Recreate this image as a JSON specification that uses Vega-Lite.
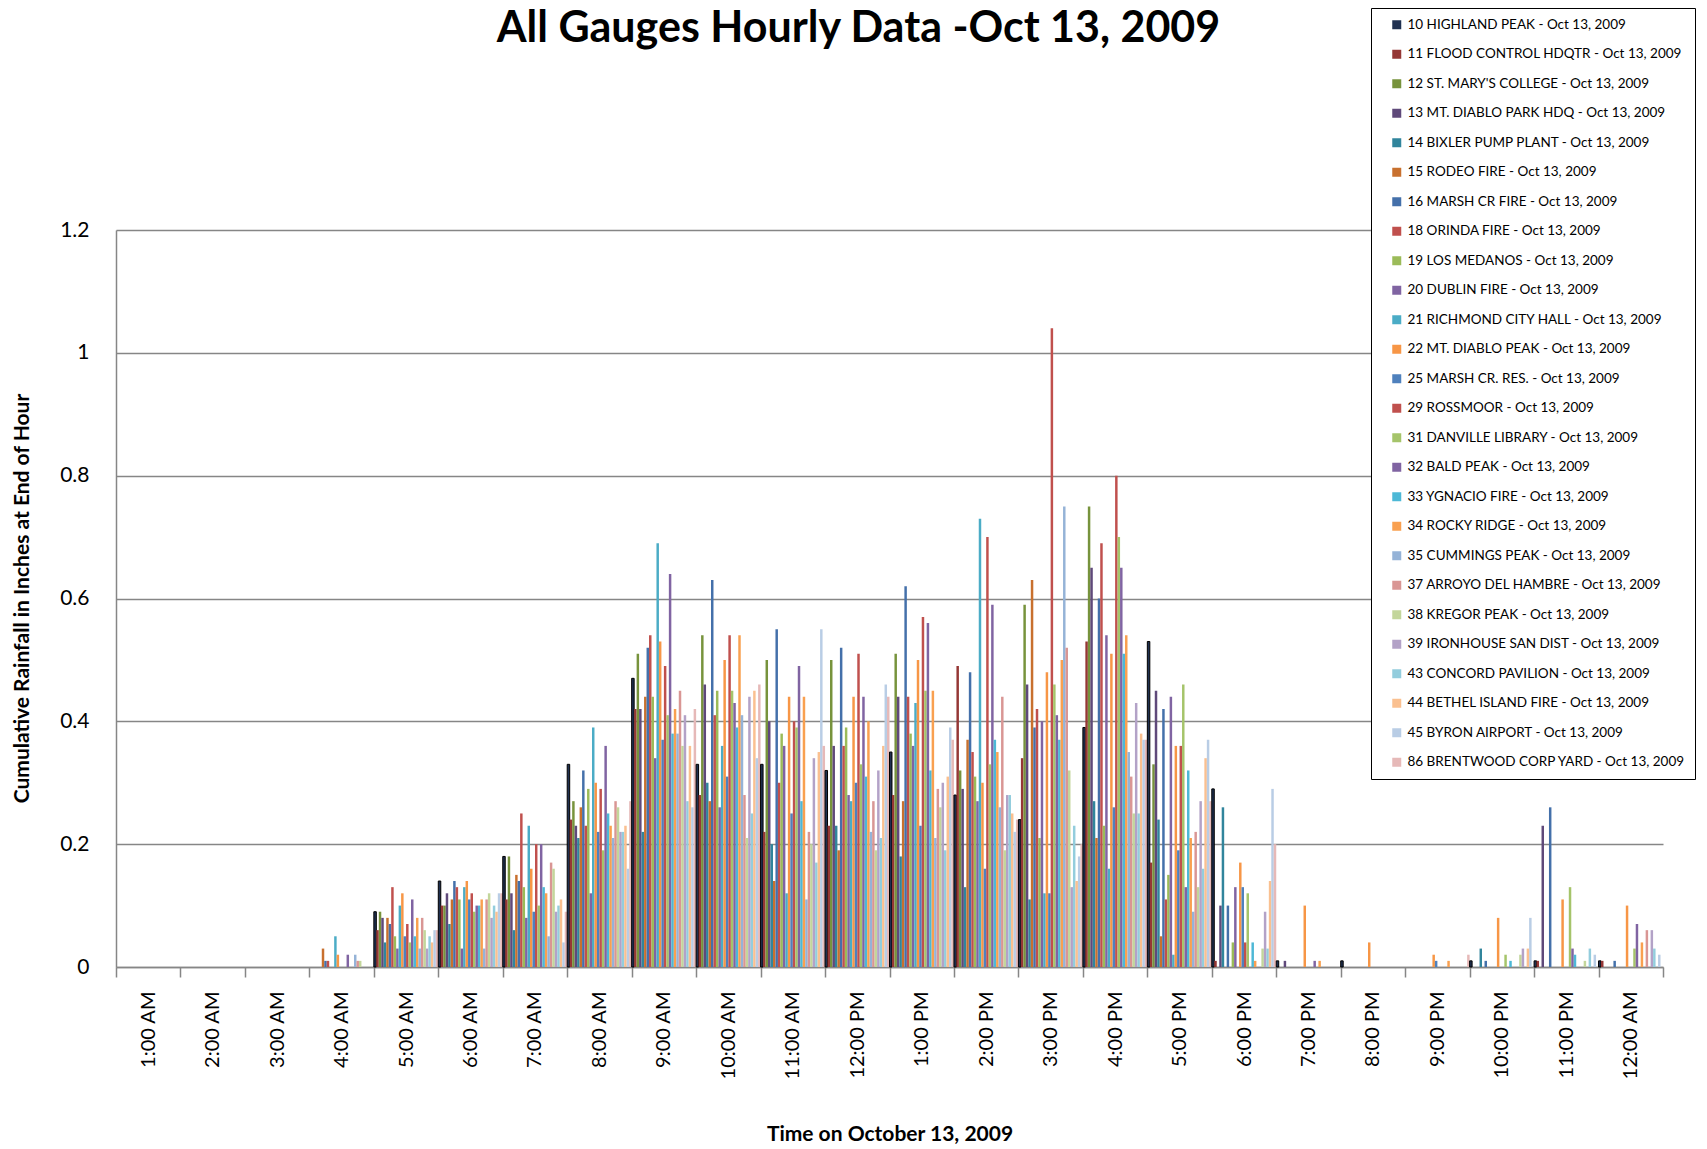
{
"$schema": "https://vega.github.io/schema/vega-lite/v6.json",
"autosize": {"type": "none"},
"width": 1547, "height": 737,
"padding": {"left": 116, "top": 230, "right": 44, "bottom": 182},
"background": "white",
"config": {"view": {"stroke": null}, "font": "Lato"},
"title": {"text": "All Gauges Hourly Data -Oct 13, 2009", "font": "Lato", "fontSize": 43, "fontWeight": "bold", "color": "black", "anchor": "middle", "frame": "group", "dx": -31, "baseline": "alphabetic", "offset": -77},
"datasets": {
"names": [
{"k":0,"gauge":"10 HIGHLAND PEAK - Oct 13, 2009"},
{"k":1,"gauge":"11 FLOOD CONTROL HDQTR - Oct 13, 2009"},
{"k":2,"gauge":"12 ST. MARY'S COLLEGE - Oct 13, 2009"},
{"k":3,"gauge":"13 MT. DIABLO PARK HDQ - Oct 13, 2009"},
{"k":4,"gauge":"14 BIXLER PUMP PLANT - Oct 13, 2009"},
{"k":5,"gauge":"15 RODEO FIRE - Oct 13, 2009"},
{"k":6,"gauge":"16 MARSH CR FIRE - Oct 13, 2009"},
{"k":7,"gauge":"18 ORINDA FIRE - Oct 13, 2009"},
{"k":8,"gauge":"19 LOS MEDANOS - Oct 13, 2009"},
{"k":9,"gauge":"20 DUBLIN FIRE - Oct 13, 2009"},
{"k":10,"gauge":"21 RICHMOND CITY HALL - Oct 13, 2009"},
{"k":11,"gauge":"22 MT. DIABLO PEAK - Oct 13, 2009"},
{"k":12,"gauge":"25 MARSH CR. RES. - Oct 13, 2009"},
{"k":13,"gauge":"29 ROSSMOOR - Oct 13, 2009"},
{"k":14,"gauge":"31 DANVILLE LIBRARY - Oct 13, 2009"},
{"k":15,"gauge":"32 BALD PEAK - Oct 13, 2009"},
{"k":16,"gauge":"33 YGNACIO FIRE - Oct 13, 2009"},
{"k":17,"gauge":"34 ROCKY RIDGE - Oct 13, 2009"},
{"k":18,"gauge":"35 CUMMINGS PEAK - Oct 13, 2009"},
{"k":19,"gauge":"37 ARROYO DEL HAMBRE - Oct 13, 2009"},
{"k":20,"gauge":"38 KREGOR PEAK - Oct 13, 2009"},
{"k":21,"gauge":"39 IRONHOUSE SAN DIST - Oct 13, 2009"},
{"k":22,"gauge":"43 CONCORD PAVILION - Oct 13, 2009"},
{"k":23,"gauge":"44 BETHEL ISLAND FIRE - Oct 13, 2009"},
{"k":24,"gauge":"45 BYRON AIRPORT - Oct 13, 2009"},
{"k":25,"gauge":"86 BRENTWOOD CORP YARD - Oct 13, 2009"}
],
"rain": [
{"h":"4:00 AM","k":5,"v":0.03},{"h":"4:00 AM","k":6,"v":0.01},{"h":"4:00 AM","k":7,"v":0.01},{"h":"4:00 AM","k":10,"v":0.05},{"h":"4:00 AM","k":11,"v":0.02},{"h":"4:00 AM","k":15,"v":0.02},{"h":"4:00 AM","k":18,"v":0.02},{"h":"4:00 AM","k":19,"v":0.01},{"h":"4:00 AM","k":20,"v":0.01},
{"h":"5:00 AM","k":0,"v":0.09},{"h":"5:00 AM","k":1,"v":0.06},{"h":"5:00 AM","k":2,"v":0.09},{"h":"5:00 AM","k":3,"v":0.08},{"h":"5:00 AM","k":4,"v":0.04},{"h":"5:00 AM","k":5,"v":0.08},{"h":"5:00 AM","k":6,"v":0.07},{"h":"5:00 AM","k":7,"v":0.13},{"h":"5:00 AM","k":8,"v":0.05},{"h":"5:00 AM","k":9,"v":0.03},{"h":"5:00 AM","k":10,"v":0.10},{"h":"5:00 AM","k":11,"v":0.12},{"h":"5:00 AM","k":12,"v":0.05},{"h":"5:00 AM","k":13,"v":0.07},{"h":"5:00 AM","k":14,"v":0.04},{"h":"5:00 AM","k":15,"v":0.11},{"h":"5:00 AM","k":16,"v":0.05},{"h":"5:00 AM","k":17,"v":0.08},{"h":"5:00 AM","k":18,"v":0.03},{"h":"5:00 AM","k":19,"v":0.08},{"h":"5:00 AM","k":20,"v":0.06},{"h":"5:00 AM","k":21,"v":0.03},{"h":"5:00 AM","k":22,"v":0.05},{"h":"5:00 AM","k":23,"v":0.04},{"h":"5:00 AM","k":24,"v":0.06},{"h":"5:00 AM","k":25,"v":0.06},
{"h":"6:00 AM","k":0,"v":0.14},{"h":"6:00 AM","k":1,"v":0.10},{"h":"6:00 AM","k":2,"v":0.10},{"h":"6:00 AM","k":3,"v":0.12},{"h":"6:00 AM","k":4,"v":0.07},{"h":"6:00 AM","k":5,"v":0.11},{"h":"6:00 AM","k":6,"v":0.14},{"h":"6:00 AM","k":7,"v":0.13},{"h":"6:00 AM","k":8,"v":0.11},{"h":"6:00 AM","k":9,"v":0.03},{"h":"6:00 AM","k":10,"v":0.13},{"h":"6:00 AM","k":11,"v":0.14},{"h":"6:00 AM","k":12,"v":0.11},{"h":"6:00 AM","k":13,"v":0.12},{"h":"6:00 AM","k":14,"v":0.09},{"h":"6:00 AM","k":15,"v":0.10},{"h":"6:00 AM","k":16,"v":0.10},{"h":"6:00 AM","k":17,"v":0.11},{"h":"6:00 AM","k":18,"v":0.03},{"h":"6:00 AM","k":19,"v":0.11},{"h":"6:00 AM","k":20,"v":0.12},{"h":"6:00 AM","k":21,"v":0.08},{"h":"6:00 AM","k":22,"v":0.10},{"h":"6:00 AM","k":23,"v":0.09},{"h":"6:00 AM","k":24,"v":0.12},{"h":"6:00 AM","k":25,"v":0.12},
{"h":"7:00 AM","k":0,"v":0.18},{"h":"7:00 AM","k":1,"v":0.11},{"h":"7:00 AM","k":2,"v":0.18},{"h":"7:00 AM","k":3,"v":0.12},{"h":"7:00 AM","k":4,"v":0.06},{"h":"7:00 AM","k":5,"v":0.15},{"h":"7:00 AM","k":6,"v":0.14},{"h":"7:00 AM","k":7,"v":0.25},{"h":"7:00 AM","k":8,"v":0.13},{"h":"7:00 AM","k":9,"v":0.08},{"h":"7:00 AM","k":10,"v":0.23},{"h":"7:00 AM","k":11,"v":0.16},{"h":"7:00 AM","k":12,"v":0.09},{"h":"7:00 AM","k":13,"v":0.20},{"h":"7:00 AM","k":14,"v":0.10},{"h":"7:00 AM","k":15,"v":0.20},{"h":"7:00 AM","k":16,"v":0.13},{"h":"7:00 AM","k":17,"v":0.12},{"h":"7:00 AM","k":18,"v":0.05},{"h":"7:00 AM","k":19,"v":0.17},{"h":"7:00 AM","k":20,"v":0.16},{"h":"7:00 AM","k":21,"v":0.09},{"h":"7:00 AM","k":22,"v":0.10},{"h":"7:00 AM","k":23,"v":0.11},{"h":"7:00 AM","k":24,"v":0.04},{"h":"7:00 AM","k":25,"v":0.09},
{"h":"8:00 AM","k":0,"v":0.33},{"h":"8:00 AM","k":1,"v":0.24},{"h":"8:00 AM","k":2,"v":0.27},{"h":"8:00 AM","k":3,"v":0.23},{"h":"8:00 AM","k":4,"v":0.21},{"h":"8:00 AM","k":5,"v":0.26},{"h":"8:00 AM","k":6,"v":0.32},{"h":"8:00 AM","k":7,"v":0.23},{"h":"8:00 AM","k":8,"v":0.29},{"h":"8:00 AM","k":9,"v":0.12},{"h":"8:00 AM","k":10,"v":0.39},{"h":"8:00 AM","k":11,"v":0.30},{"h":"8:00 AM","k":12,"v":0.22},{"h":"8:00 AM","k":13,"v":0.29},{"h":"8:00 AM","k":14,"v":0.19},{"h":"8:00 AM","k":15,"v":0.36},{"h":"8:00 AM","k":16,"v":0.25},{"h":"8:00 AM","k":17,"v":0.23},{"h":"8:00 AM","k":18,"v":0.21},{"h":"8:00 AM","k":19,"v":0.27},{"h":"8:00 AM","k":20,"v":0.26},{"h":"8:00 AM","k":21,"v":0.22},{"h":"8:00 AM","k":22,"v":0.22},{"h":"8:00 AM","k":23,"v":0.23},{"h":"8:00 AM","k":24,"v":0.16},{"h":"8:00 AM","k":25,"v":0.27},
{"h":"9:00 AM","k":0,"v":0.47},{"h":"9:00 AM","k":1,"v":0.42},{"h":"9:00 AM","k":2,"v":0.51},{"h":"9:00 AM","k":3,"v":0.42},{"h":"9:00 AM","k":4,"v":0.22},{"h":"9:00 AM","k":5,"v":0.44},{"h":"9:00 AM","k":6,"v":0.52},{"h":"9:00 AM","k":7,"v":0.54},{"h":"9:00 AM","k":8,"v":0.44},{"h":"9:00 AM","k":9,"v":0.34},{"h":"9:00 AM","k":10,"v":0.69},{"h":"9:00 AM","k":11,"v":0.53},{"h":"9:00 AM","k":12,"v":0.37},{"h":"9:00 AM","k":13,"v":0.49},{"h":"9:00 AM","k":14,"v":0.41},{"h":"9:00 AM","k":15,"v":0.64},{"h":"9:00 AM","k":16,"v":0.38},{"h":"9:00 AM","k":17,"v":0.42},{"h":"9:00 AM","k":18,"v":0.38},{"h":"9:00 AM","k":19,"v":0.45},{"h":"9:00 AM","k":20,"v":0.36},{"h":"9:00 AM","k":21,"v":0.41},{"h":"9:00 AM","k":22,"v":0.27},{"h":"9:00 AM","k":23,"v":0.36},{"h":"9:00 AM","k":24,"v":0.26},{"h":"9:00 AM","k":25,"v":0.42},
{"h":"10:00 AM","k":0,"v":0.33},{"h":"10:00 AM","k":1,"v":0.28},{"h":"10:00 AM","k":2,"v":0.54},{"h":"10:00 AM","k":3,"v":0.46},{"h":"10:00 AM","k":4,"v":0.30},{"h":"10:00 AM","k":5,"v":0.27},{"h":"10:00 AM","k":6,"v":0.63},{"h":"10:00 AM","k":7,"v":0.41},{"h":"10:00 AM","k":8,"v":0.45},{"h":"10:00 AM","k":9,"v":0.26},{"h":"10:00 AM","k":10,"v":0.36},{"h":"10:00 AM","k":11,"v":0.50},{"h":"10:00 AM","k":12,"v":0.31},{"h":"10:00 AM","k":13,"v":0.54},{"h":"10:00 AM","k":14,"v":0.45},{"h":"10:00 AM","k":15,"v":0.43},{"h":"10:00 AM","k":16,"v":0.39},{"h":"10:00 AM","k":17,"v":0.54},{"h":"10:00 AM","k":18,"v":0.41},{"h":"10:00 AM","k":19,"v":0.28},{"h":"10:00 AM","k":20,"v":0.21},{"h":"10:00 AM","k":21,"v":0.44},{"h":"10:00 AM","k":22,"v":0.25},{"h":"10:00 AM","k":23,"v":0.45},{"h":"10:00 AM","k":24,"v":0.34},{"h":"10:00 AM","k":25,"v":0.46},
{"h":"11:00 AM","k":0,"v":0.33},{"h":"11:00 AM","k":1,"v":0.22},{"h":"11:00 AM","k":2,"v":0.50},{"h":"11:00 AM","k":3,"v":0.40},{"h":"11:00 AM","k":4,"v":0.20},{"h":"11:00 AM","k":5,"v":0.14},{"h":"11:00 AM","k":6,"v":0.55},{"h":"11:00 AM","k":7,"v":0.30},{"h":"11:00 AM","k":8,"v":0.38},{"h":"11:00 AM","k":9,"v":0.36},{"h":"11:00 AM","k":10,"v":0.12},{"h":"11:00 AM","k":11,"v":0.44},{"h":"11:00 AM","k":12,"v":0.25},{"h":"11:00 AM","k":13,"v":0.40},{"h":"11:00 AM","k":14,"v":0.39},{"h":"11:00 AM","k":15,"v":0.49},{"h":"11:00 AM","k":16,"v":0.27},{"h":"11:00 AM","k":17,"v":0.44},{"h":"11:00 AM","k":18,"v":0.11},{"h":"11:00 AM","k":19,"v":0.22},{"h":"11:00 AM","k":20,"v":0.20},{"h":"11:00 AM","k":21,"v":0.34},{"h":"11:00 AM","k":22,"v":0.17},{"h":"11:00 AM","k":23,"v":0.35},{"h":"11:00 AM","k":24,"v":0.55},{"h":"11:00 AM","k":25,"v":0.36},
{"h":"12:00 PM","k":0,"v":0.32},{"h":"12:00 PM","k":1,"v":0.23},{"h":"12:00 PM","k":2,"v":0.50},{"h":"12:00 PM","k":3,"v":0.36},{"h":"12:00 PM","k":4,"v":0.23},{"h":"12:00 PM","k":5,"v":0.19},{"h":"12:00 PM","k":6,"v":0.52},{"h":"12:00 PM","k":7,"v":0.36},{"h":"12:00 PM","k":8,"v":0.39},{"h":"12:00 PM","k":9,"v":0.28},{"h":"12:00 PM","k":10,"v":0.27},{"h":"12:00 PM","k":11,"v":0.44},{"h":"12:00 PM","k":12,"v":0.30},{"h":"12:00 PM","k":13,"v":0.51},{"h":"12:00 PM","k":14,"v":0.33},{"h":"12:00 PM","k":15,"v":0.44},{"h":"12:00 PM","k":16,"v":0.31},{"h":"12:00 PM","k":17,"v":0.40},{"h":"12:00 PM","k":18,"v":0.22},{"h":"12:00 PM","k":19,"v":0.27},{"h":"12:00 PM","k":20,"v":0.19},{"h":"12:00 PM","k":21,"v":0.32},{"h":"12:00 PM","k":22,"v":0.21},{"h":"12:00 PM","k":23,"v":0.36},{"h":"12:00 PM","k":24,"v":0.46},{"h":"12:00 PM","k":25,"v":0.44},
{"h":"1:00 PM","k":0,"v":0.35},{"h":"1:00 PM","k":1,"v":0.28},{"h":"1:00 PM","k":2,"v":0.51},{"h":"1:00 PM","k":3,"v":0.44},{"h":"1:00 PM","k":4,"v":0.18},{"h":"1:00 PM","k":5,"v":0.27},{"h":"1:00 PM","k":6,"v":0.62},{"h":"1:00 PM","k":7,"v":0.44},{"h":"1:00 PM","k":8,"v":0.38},{"h":"1:00 PM","k":9,"v":0.36},{"h":"1:00 PM","k":10,"v":0.43},{"h":"1:00 PM","k":11,"v":0.50},{"h":"1:00 PM","k":12,"v":0.23},{"h":"1:00 PM","k":13,"v":0.57},{"h":"1:00 PM","k":14,"v":0.45},{"h":"1:00 PM","k":15,"v":0.56},{"h":"1:00 PM","k":16,"v":0.32},{"h":"1:00 PM","k":17,"v":0.45},{"h":"1:00 PM","k":18,"v":0.21},{"h":"1:00 PM","k":19,"v":0.29},{"h":"1:00 PM","k":20,"v":0.26},{"h":"1:00 PM","k":21,"v":0.30},{"h":"1:00 PM","k":22,"v":0.19},{"h":"1:00 PM","k":23,"v":0.31},{"h":"1:00 PM","k":24,"v":0.39},{"h":"1:00 PM","k":25,"v":0.37},
{"h":"2:00 PM","k":0,"v":0.28},{"h":"2:00 PM","k":1,"v":0.49},{"h":"2:00 PM","k":2,"v":0.32},{"h":"2:00 PM","k":3,"v":0.29},{"h":"2:00 PM","k":4,"v":0.13},{"h":"2:00 PM","k":5,"v":0.37},{"h":"2:00 PM","k":6,"v":0.48},{"h":"2:00 PM","k":7,"v":0.35},{"h":"2:00 PM","k":8,"v":0.31},{"h":"2:00 PM","k":9,"v":0.27},{"h":"2:00 PM","k":10,"v":0.73},{"h":"2:00 PM","k":11,"v":0.30},{"h":"2:00 PM","k":12,"v":0.16},{"h":"2:00 PM","k":13,"v":0.70},{"h":"2:00 PM","k":14,"v":0.33},{"h":"2:00 PM","k":15,"v":0.59},{"h":"2:00 PM","k":16,"v":0.37},{"h":"2:00 PM","k":17,"v":0.35},{"h":"2:00 PM","k":18,"v":0.26},{"h":"2:00 PM","k":19,"v":0.44},{"h":"2:00 PM","k":20,"v":0.19},{"h":"2:00 PM","k":21,"v":0.28},{"h":"2:00 PM","k":22,"v":0.28},{"h":"2:00 PM","k":23,"v":0.25},{"h":"2:00 PM","k":24,"v":0.22},{"h":"2:00 PM","k":25,"v":0.24},
{"h":"3:00 PM","k":0,"v":0.24},{"h":"3:00 PM","k":1,"v":0.34},{"h":"3:00 PM","k":2,"v":0.59},{"h":"3:00 PM","k":3,"v":0.46},{"h":"3:00 PM","k":4,"v":0.11},{"h":"3:00 PM","k":5,"v":0.63},{"h":"3:00 PM","k":6,"v":0.39},{"h":"3:00 PM","k":7,"v":0.42},{"h":"3:00 PM","k":8,"v":0.21},{"h":"3:00 PM","k":9,"v":0.40},{"h":"3:00 PM","k":10,"v":0.12},{"h":"3:00 PM","k":11,"v":0.48},{"h":"3:00 PM","k":12,"v":0.12},{"h":"3:00 PM","k":13,"v":1.04},{"h":"3:00 PM","k":14,"v":0.46},{"h":"3:00 PM","k":15,"v":0.41},{"h":"3:00 PM","k":16,"v":0.37},{"h":"3:00 PM","k":17,"v":0.50},{"h":"3:00 PM","k":18,"v":0.75},{"h":"3:00 PM","k":19,"v":0.52},{"h":"3:00 PM","k":20,"v":0.32},{"h":"3:00 PM","k":21,"v":0.13},{"h":"3:00 PM","k":22,"v":0.23},{"h":"3:00 PM","k":23,"v":0.14},{"h":"3:00 PM","k":24,"v":0.18},{"h":"3:00 PM","k":25,"v":0.20},
{"h":"4:00 PM","k":0,"v":0.39},{"h":"4:00 PM","k":1,"v":0.53},{"h":"4:00 PM","k":2,"v":0.75},{"h":"4:00 PM","k":3,"v":0.65},{"h":"4:00 PM","k":4,"v":0.27},{"h":"4:00 PM","k":5,"v":0.21},{"h":"4:00 PM","k":6,"v":0.60},{"h":"4:00 PM","k":7,"v":0.69},{"h":"4:00 PM","k":8,"v":0.23},{"h":"4:00 PM","k":9,"v":0.54},{"h":"4:00 PM","k":10,"v":0.16},{"h":"4:00 PM","k":11,"v":0.51},{"h":"4:00 PM","k":12,"v":0.26},{"h":"4:00 PM","k":13,"v":0.80},{"h":"4:00 PM","k":14,"v":0.70},{"h":"4:00 PM","k":15,"v":0.65},{"h":"4:00 PM","k":16,"v":0.51},{"h":"4:00 PM","k":17,"v":0.54},{"h":"4:00 PM","k":18,"v":0.35},{"h":"4:00 PM","k":19,"v":0.31},{"h":"4:00 PM","k":20,"v":0.25},{"h":"4:00 PM","k":21,"v":0.43},{"h":"4:00 PM","k":22,"v":0.25},{"h":"4:00 PM","k":23,"v":0.38},{"h":"4:00 PM","k":24,"v":0.37},{"h":"4:00 PM","k":25,"v":0.37},
{"h":"5:00 PM","k":0,"v":0.53},{"h":"5:00 PM","k":1,"v":0.17},{"h":"5:00 PM","k":2,"v":0.33},{"h":"5:00 PM","k":3,"v":0.45},{"h":"5:00 PM","k":4,"v":0.24},{"h":"5:00 PM","k":5,"v":0.05},{"h":"5:00 PM","k":6,"v":0.42},{"h":"5:00 PM","k":7,"v":0.11},{"h":"5:00 PM","k":8,"v":0.15},{"h":"5:00 PM","k":9,"v":0.44},{"h":"5:00 PM","k":10,"v":0.02},{"h":"5:00 PM","k":11,"v":0.36},{"h":"5:00 PM","k":12,"v":0.19},{"h":"5:00 PM","k":13,"v":0.36},{"h":"5:00 PM","k":14,"v":0.46},{"h":"5:00 PM","k":15,"v":0.13},{"h":"5:00 PM","k":16,"v":0.32},{"h":"5:00 PM","k":17,"v":0.21},{"h":"5:00 PM","k":18,"v":0.09},{"h":"5:00 PM","k":19,"v":0.22},{"h":"5:00 PM","k":20,"v":0.13},{"h":"5:00 PM","k":21,"v":0.27},{"h":"5:00 PM","k":22,"v":0.16},{"h":"5:00 PM","k":23,"v":0.34},{"h":"5:00 PM","k":24,"v":0.37},{"h":"5:00 PM","k":25,"v":0.27},
{"h":"6:00 PM","k":0,"v":0.29},{"h":"6:00 PM","k":1,"v":0.01},{"h":"6:00 PM","k":3,"v":0.10},{"h":"6:00 PM","k":4,"v":0.26},{"h":"6:00 PM","k":6,"v":0.10},{"h":"6:00 PM","k":8,"v":0.04},{"h":"6:00 PM","k":9,"v":0.13},{"h":"6:00 PM","k":11,"v":0.17},{"h":"6:00 PM","k":12,"v":0.13},{"h":"6:00 PM","k":13,"v":0.04},{"h":"6:00 PM","k":14,"v":0.12},{"h":"6:00 PM","k":16,"v":0.04},{"h":"6:00 PM","k":17,"v":0.01},{"h":"6:00 PM","k":20,"v":0.03},{"h":"6:00 PM","k":21,"v":0.09},{"h":"6:00 PM","k":22,"v":0.03},{"h":"6:00 PM","k":23,"v":0.14},{"h":"6:00 PM","k":24,"v":0.29},{"h":"6:00 PM","k":25,"v":0.20},
{"h":"7:00 PM","k":0,"v":0.01},{"h":"7:00 PM","k":3,"v":0.01},{"h":"7:00 PM","k":11,"v":0.10},{"h":"7:00 PM","k":15,"v":0.01},{"h":"7:00 PM","k":17,"v":0.01},
{"h":"8:00 PM","k":0,"v":0.01},{"h":"8:00 PM","k":11,"v":0.04},
{"h":"9:00 PM","k":11,"v":0.02},{"h":"9:00 PM","k":12,"v":0.01},{"h":"9:00 PM","k":17,"v":0.01},{"h":"9:00 PM","k":25,"v":0.02},
{"h":"10:00 PM","k":0,"v":0.01},{"h":"10:00 PM","k":4,"v":0.03},{"h":"10:00 PM","k":6,"v":0.01},{"h":"10:00 PM","k":11,"v":0.08},{"h":"10:00 PM","k":16,"v":0.01},{"h":"10:00 PM","k":14,"v":0.02},{"h":"10:00 PM","k":20,"v":0.02},{"h":"10:00 PM","k":21,"v":0.03},{"h":"10:00 PM","k":23,"v":0.03},{"h":"10:00 PM","k":24,"v":0.08},
{"h":"11:00 PM","k":0,"v":0.01},{"h":"11:00 PM","k":3,"v":0.23},{"h":"11:00 PM","k":1,"v":0.01},{"h":"11:00 PM","k":6,"v":0.26},{"h":"11:00 PM","k":11,"v":0.11},{"h":"11:00 PM","k":14,"v":0.13},{"h":"11:00 PM","k":15,"v":0.03},{"h":"11:00 PM","k":16,"v":0.02},{"h":"11:00 PM","k":20,"v":0.01},{"h":"11:00 PM","k":22,"v":0.03},{"h":"11:00 PM","k":24,"v":0.02},
{"h":"12:00 AM","k":0,"v":0.01},{"h":"12:00 AM","k":1,"v":0.01},{"h":"12:00 AM","k":6,"v":0.01},{"h":"12:00 AM","k":11,"v":0.10},{"h":"12:00 AM","k":14,"v":0.03},{"h":"12:00 AM","k":15,"v":0.07},{"h":"12:00 AM","k":17,"v":0.04},{"h":"12:00 AM","k":19,"v":0.06},{"h":"12:00 AM","k":21,"v":0.06},{"h":"12:00 AM","k":22,"v":0.03},{"h":"12:00 AM","k":24,"v":0.02}
]
},
"data": {"name": "rain"},
"transform": [{"lookup": "k", "from": {"data": {"name": "names"}, "key": "k", "fields": ["gauge"]}}],
"mark": {"type": "bar", "strokeWidth": 1},
"encoding": {
"x": {"field": "h", "type": "nominal",
 "scale": {"domain": ["1:00 AM","2:00 AM","3:00 AM","4:00 AM","5:00 AM","6:00 AM","7:00 AM","8:00 AM","9:00 AM","10:00 AM","11:00 AM","12:00 PM","1:00 PM","2:00 PM","3:00 PM","4:00 PM","5:00 PM","6:00 PM","7:00 PM","8:00 PM","9:00 PM","10:00 PM","11:00 PM","12:00 AM"], "paddingInner": 0, "paddingOuter": 0},
 "axis": {"title": "Time on October 13, 2009", "titleFont": "Lato", "titleFontSize": 21, "titleFontWeight": "bold", "titleColor": "black", "titleY": 167, "titleBaseline": "middle",
  "labelAngle": -90, "labelAlign": "right", "labelBaseline": "middle", "labelFontSize": 20, "labelColor": "black", "labelFont": "Lato", "labelPadding": 14,
  "tickBand": "extent", "tickSize": 10, "tickColor": "#868686", "tickWidth": 1.5, "domainColor": "#868686", "domainWidth": 1.5, "grid": false}},
"xOffset": {"field": "gauge", "type": "nominal", "scale": {"paddingInner": 0, "paddingOuter": 0}},
"y": {"field": "v", "type": "quantitative",
 "scale": {"domain": [0, 1.2], "nice": false},
 "axis": {"title": "Cumulative Rainfall in Inches at End of Hour", "titleFont": "Lato", "titleFontSize": 21, "titleFontWeight": "bold", "titleColor": "black", "titleX": -94, "titleY": 368, "titleAngle": -90, "titleBaseline": "middle", "titleAlign": "center",
  "values": [0, 0.2, 0.4, 0.6, 0.8, 1, 1.2], "format": "~g", "labelFontSize": 21, "labelColor": "black", "labelFont": "Lato", "labelPadding": 27, "ticks": false,
  "grid": true, "gridColor": "#868686", "gridWidth": 1.5, "domainColor": "#868686", "domainWidth": 1.5}},
"color": {"field": "gauge", "type": "nominal",
 "scale": {"range": ["#1F3050","#953735","#77933C","#5F497A","#31859C","#C8702E","#4470AA","#C0504D","#9BBB59","#8064A2","#4BACC6","#F79646","#4F81BD","#C0504D","#A5C46A","#8064A2","#4DB8D6","#F9A050","#95B3D7","#D99694","#C3D69B","#B3A2C7","#93CDDD","#FAC090","#B9CDE5","#E6B9B8"]},
 "legend": {"orient": "none", "legendX": 1255, "legendY": -222, "direction": "vertical", "columns": 1, "title": null,
  "strokeColor": "black", "fillColor": "white", "padding": 10, "labelFontSize": 13.5, "labelFont": "Lato", "labelColor": "black", "labelLimit": 400,
  "symbolType": "square", "symbolSize": 81, "symbolStrokeWidth": 0, "symbolOffset": 9, "labelOffset": 4, "rowPadding": 14.5}},
"stroke": {"condition": {"test": "datum.k === 0", "value": "black"}, "value": "transparent"}
}
}
